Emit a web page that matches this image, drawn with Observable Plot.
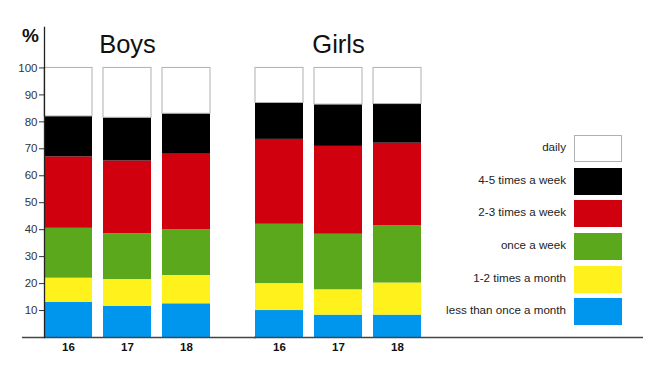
<!DOCTYPE html>
<html>
<head>
<meta charset="utf-8">
<script src="https://cdn.jsdelivr.net/npm/d3@7"></script>
<script src="https://cdn.jsdelivr.net/npm/@observablehq/plot@0.6"></script>
<style>
  body { margin: 0; background: #fff; }
  #wrap { position: relative; width: 650px; height: 372px; font-family: "Liberation Sans", Arial, sans-serif; }
  #pct { position: absolute; left: 22px; top: 25px; font-size: 19px; font-weight: bold; color: #111; }
  #legend { position: absolute; left: 430px; top: 135px; width: 192px; }
  .item { display: flex; align-items: center; justify-content: flex-end; height: 27px; margin-bottom: 5.7px; }
  .item span { font-size: 11.6px; color: #222; margin-right: 8px; position: relative; top: -2px; }
  .item i { display: block; width: 46px; height: 25px; border: 1px solid; }
</style>
</head>
<body>
<div id="wrap">
  <div id="chart"></div>
  <div id="pct">%</div>
  <div id="legend"></div>
</div>
<script>
// categories bottom -> top
const categories = ["less than once a month", "1-2 times a month", "once a week", "2-3 times a week", "4-5 times a week", "daily"];
const colors = ["#0096ee", "#fff21c", "#5ca81c", "#d0000f", "#000000", "#ffffff"];
const groups = ["Boys", "Girls"];
const ages = ["16", "17", "18"];
const yTicks = [10, 20, 30, 40, 50, 60, 70, 80, 90, 100];

// percentages per category (bottom -> top)
const boys16 = [13.0, 9.0, 18.5, 26.5, 15.0, 18.0];
const boys17 = [11.5, 10.0, 17.0, 27.0, 16.0, 18.5];
const boys18 = [12.5, 10.5, 17.0, 28.0, 15.0, 17.0];
const girls16 = [10.0, 10.0, 22.0, 31.5, 13.5, 13.0];
const girls17 = [8.3, 9.4, 20.6, 32.6, 15.5, 13.6];
const girls18 = [8.3, 11.9, 21.2, 30.7, 14.5, 13.4];

const series = { Boys: [boys16, boys17, boys18], Girls: [girls16, girls17, girls18] };
const rows = [];
for (const g of groups) {
  series[g].forEach((vals, ai) => {
    vals.forEach((v, ci) => rows.push({ group: g, age: ages[ai], freq: categories[ci], value: v }));
  });
}

const chart = Plot.plot({
  width: 650,
  height: 372,
  marginLeft: 44,
  marginRight: 229,
  marginTop: 27,
  marginBottom: 35,
  style: { fontFamily: "'Liberation Sans', Arial, sans-serif", background: "transparent", overflow: "visible" },
  fx: { domain: groups, paddingInner: 0.215, paddingOuter: 0, label: null },
  x: { domain: ages, paddingInner: 0.19, paddingOuter: 0, label: null },
  y: { domain: [0, 115], label: null },
  color: { domain: categories, range: colors },
  marks: [
    Plot.barY(rows, {
      fx: "group", x: "age", y: "value", fill: "freq",
      stroke: "#b0b0b0",
      strokeOpacity: d => d.freq === "daily" ? 1 : 0
    }),
    Plot.ruleY([0], { fx: [groups[0]], insetLeft: -22, insetRight: -46, stroke: "#444", strokeWidth: 1.5 }),
    Plot.ruleY([0], { fx: [groups[1]], insetLeft: -1, insetRight: -222, stroke: "#444", strokeWidth: 1.5 }),
    Plot.frame({ anchor: "left", fx: [groups[0]], stroke: "#222", strokeWidth: 1.3 }),
    Plot.axisY(yTicks, { tickSize: 5, tickPadding: 2, fontSize: 11.5, color: "#333", label: null }),
    Plot.axisX({ tickSize: 0, tickPadding: 5.5, fontSize: 11.5, fontWeight: "bold", color: "#111", label: null }),
    Plot.axisFx({ anchor: "top", tickSize: 0, fontSize: 25.5, dy: 34, color: "#111", label: null })
  ]
});
document.getElementById("chart").appendChild(chart);

const legend = document.getElementById("legend");
for (let i = categories.length - 1; i >= 0; i--) {
  const item = document.createElement("div");
  item.className = "item";
  const label = document.createElement("span");
  label.textContent = categories[i];
  const sw = document.createElement("i");
  sw.style.background = colors[i];
  sw.style.borderColor = categories[i] === "daily" ? "#b0b0b0" : colors[i];
  item.appendChild(label);
  item.appendChild(sw);
  legend.appendChild(item);
}
</script>
</body>
</html>
